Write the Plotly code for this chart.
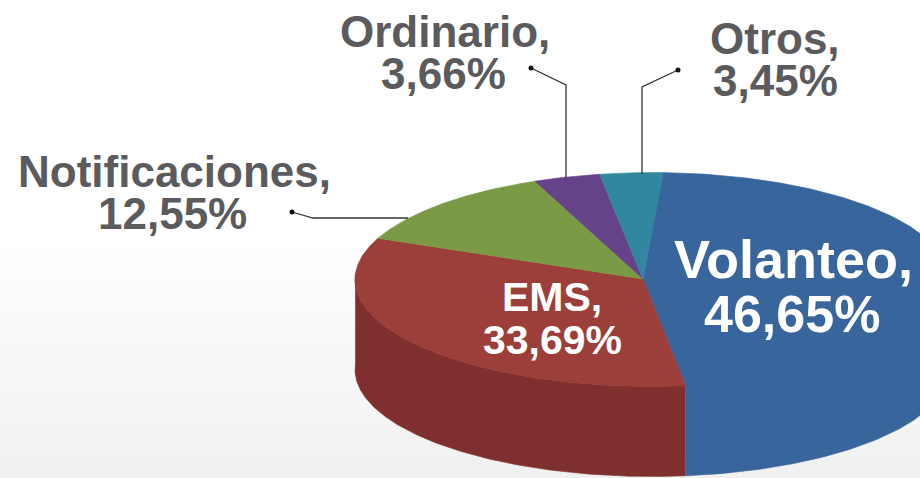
import numpy as np
import plotly.graph_objects as go

categories = ["Volanteo", "EMS", "Notificaciones", "Ordinario", "Otros"]
values = [46.65, 33.69, 12.55, 3.66, 3.45]
value_labels = ["46,65%", "33,69%", "12,55%", "3,66%", "3,45%"]
colors = ["#38659b", "#9c3e3a", "#7b9a45", "#65428a", "#30879f"]
side_colors = ["#38659b", "#7f302e", "#7b9a45", "#65428a", "#30879f"]

W, H = 920, 478
CX, CY, RX, RY = 652, 279.5, 297, 107
AX, AY = 643, 279
DEPTH = 90
START = 3.9


def rim(t_deg):
    """Point of the ellipse reached by the ray from the apex at pie angle t."""
    t = np.radians(t_deg)
    ux, uy = np.sin(t), -np.cos(t)
    ox, oy = (AX - CX) / RX, (AY - CY) / RY
    b = ox * ux + oy * uy
    s = -b + np.sqrt(b * b - (ox * ox + oy * oy - 1))
    return AX + s * RX * ux, AY + s * RY * uy


fig = go.Figure()

# soft background: white above, light grey towards the bottom
bg_y = np.linspace(0, H, 60)
bg_x = np.linspace(0, W, 2)
bg_z = [[max(0, (y - 240) / (H - 240)) for _ in bg_x] for y in bg_y]
fig.add_trace(go.Heatmap(x=bg_x, y=bg_y, z=bg_z, showscale=False, hoverinfo="skip",
                         colorscale=[[0, "#ffffff"], [1, "#f0f0f0"]], zmin=0, zmax=1))

# boundaries of the slices, in pie degrees
edges = START + np.concatenate([[0], np.cumsum(values)]) * 3.6

# side wall: visible for the slices that reach the front of the pie
for i in (1, 0):
    ts = np.linspace(edges[i], edges[i + 1], 200)
    pts = [rim(t) for t in ts]
    keep = [p for p in pts if p[1] >= CY - 6]
    xs = [p[0] for p in keep]
    ys = [p[1] for p in keep]
    # the blue wall has the colour of its face: overlap them so no seam shows
    lift = 10 if i == 0 else 0
    fig.add_trace(go.Scatter(
        x=xs + xs[::-1], y=[y - lift for y in ys] + [y + DEPTH for y in ys[::-1]],
        fill="toself", fillcolor=side_colors[i], mode="lines",
        line=dict(width=0.6, color=side_colors[i]), hoverinfo="skip", showlegend=False))

# top face
for i, name in enumerate(categories):
    ts = np.linspace(edges[i], edges[i + 1], 200)
    pts = [rim(t) for t in ts]
    fig.add_trace(go.Scatter(
        x=[AX] + [p[0] for p in pts] + [AX],
        y=[AY] + [p[1] for p in pts] + [AY],
        fill="toself", fillcolor=colors[i], mode="lines",
        line=dict(width=0.6, color=colors[i]), name=name, hoverinfo="name", showlegend=False))

# leader lines
leaders = [
    ([292, 313, 408], [212, 218, 218]),
    ([531, 566, 566], [68, 85, 178]),
    ([678, 642, 642], [70, 87, 174]),
]
for lx, ly in leaders:
    fig.add_trace(go.Scatter(x=lx, y=ly, mode="lines", line=dict(color="#333333", width=1.3),
                             hoverinfo="skip", showlegend=False))
    fig.add_trace(go.Scatter(x=lx[:1], y=ly[:1], mode="markers",
                             marker=dict(color="#111111", size=5), hoverinfo="skip", showlegend=False))

FONT = "Liberation Sans"
GREY = "#5b5b5d"
# index, x of name, y of name, x of value, y of value, name size, value size, colour
placements = [
    (0, 793, 259, 792, 314, 54, 52, "#ffffff"),
    (1, 552, 297, 552, 340, 41, 41, "#ffffff"),
    (2, 174, 171, 172, 213, 44, 44, GREY),
    (3, 445, 31, 443, 73, 44, 44, GREY),
    (4, 775, 38, 775, 80, 44, 44, GREY),
]
for i, x1, y1, x2, y2, s1, s2, col in placements:
    for x, y, txt, size in ((x1, y1, categories[i] + ",", s1), (x2, y2, value_labels[i], s2)):
        fig.add_annotation(
            x=x, y=y, text=f"<b>{txt}</b>", showarrow=False,
            xanchor="center", yanchor="middle", align="center",
            font=dict(family=FONT, size=size, color=col))

fig.update_layout(
    width=W, height=H, margin=dict(l=0, r=0, t=0, b=0),
    paper_bgcolor="#ffffff", plot_bgcolor="#ffffff", showlegend=False,
    xaxis=dict(range=[0, W], visible=False, fixedrange=True),
    yaxis=dict(range=[H, 0], visible=False, fixedrange=True),
)
fig.write_html("out.html", config={"displayModeBar": False},
               post_script="document.body.style.margin='0';document.body.style.overflow='hidden';")
